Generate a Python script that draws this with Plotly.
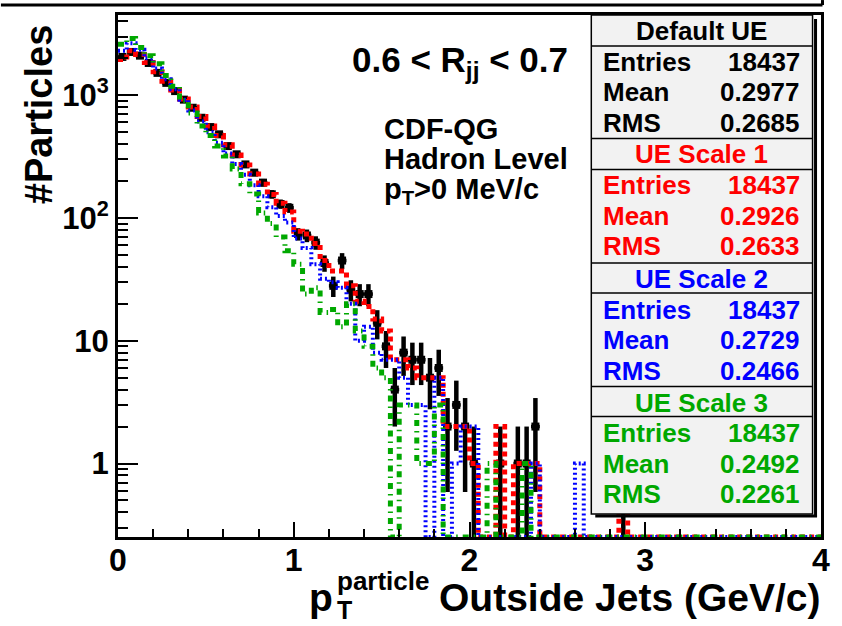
import numpy as np
import plotly.graph_objects as go

# ---- binning: 80 bins of 0.05 GeV/c from 0 to 4 ----
X_MIN, X_MAX, N_BINS = 0.0, 4.0, 80
Y_MIN, Y_MAX = 0.252, 4500.0

# ---- bin contents ----
default_ue = [
    2050, 2250, 2100, 1830, 1520, 1260, 1080, 920, 790, 655,
    550, 480, 385, 330, 273, 234, 194, 156, 130, 121,
    74, 72, 63, 43, 28, 45, 26, 24, 24, 14,
    9, 4, 8, 7, 7, 5, 6, 2, 3, 2,
    1, 0, 0, 1, 0, 1, 1, 2, 0, 0,
    0, 0, 0, 0, 0, 0, 0, 1, 0, 0,
    0, 0, 0, 0, 0, 0, 0, 0, 0, 0,
    0, 0, 0, 0, 0, 0, 0, 0, 0, 0,
]
ue_scale1 = [
    1950, 2300, 2150, 1850, 1550, 1300, 1100, 930, 800, 670,
    560, 470, 395, 325, 270, 228, 188, 155, 132, 112,
    78, 74, 62, 45, 37, 37, 28, 21, 19, 15,
    12, 7, 7, 6, 5, 5, 5, 2, 2, 2,
    1, 0, 0, 2, 0, 1, 1, 1, 0, 0,
    0, 0, 0, 0, 0, 0, 0, 1, 0, 0,
    0, 0, 0, 0, 0, 0, 0, 0, 0, 0,
    0, 0, 0, 0, 0, 0, 0, 0, 0, 0,
]
ue_scale2 = [
    2300, 2650, 2350, 2000, 1650, 1350, 1120, 920, 750, 610,
    500, 410, 335, 275, 225, 185, 150, 122, 104, 92,
    68, 57, 42, 32, 30, 27, 20, 10, 13, 8,
    7, 7, 5, 3, 3, 0, 5, 0, 1, 2,
    2, 0, 0, 0, 0, 0, 0, 1, 0, 0,
    0, 0, 1, 0, 0, 0, 0, 0, 0, 0,
    0, 0, 0, 0, 0, 0, 0, 0, 0, 0,
    0, 0, 0, 0, 0, 0, 0, 0, 0, 0,
]
ue_scale3 = [
    2600, 2900, 2450, 2100, 1800, 1450, 1180, 900, 715, 560,
    470, 385, 320, 250, 190, 157, 110, 90, 70, 54,
    42, 24, 27, 17, 18, 13, 20, 12, 9, 6,
    5, 0, 3, 3, 1, 1, 3, 0, 0, 0,
    0, 0, 1, 0, 0, 0, 1, 0, 0, 0,
    0, 0, 0, 0, 0, 0, 0, 0, 0, 0,
    0, 0, 0, 0, 0, 0, 0, 0, 0, 0,
    0, 0, 0, 0, 0, 0, 0, 0, 0, 0,
]

# ---- statistics panels ----
stat_titles = ["Default UE", "UE Scale 1", "UE Scale 2", "UE Scale 3"]
stat_entries = ["18437", "18437", "18437", "18437"]
stat_means = ["0.2977", "0.2926", "0.2729", "0.2492"]
stat_rms = ["0.2685", "0.2633", "0.2466", "0.2261"]
stat_colors = ["#000000", "#ff0000", "#0000ff", "#00a800"]

# axis tick labels
x_tickvals = [0, 1, 2, 3, 4]
x_ticktext = ["0", "1", "2", "3", "4"]
y_tickvals = [1, 10, 100, 1000]
y_ticktext = ["1", "10", "10<sup>2</sup>", "10<sup>3</sup>"]

FONT = "Liberation Sans, Arial, Helvetica, sans-serif"

edges = np.linspace(X_MIN, X_MAX, N_BINS + 1)
centers = 0.5 * (edges[:-1] + edges[1:])
half_w = 0.5 * (edges[1] - edges[0])


def outline(values):
    """Step outline of a histogram; empty bins sit on the axis floor."""
    v = np.maximum(np.asarray(values, dtype=float), Y_MIN)
    return edges, np.append(v, v[-1])


fig = go.Figure()

# default sample: markers with Poisson error bars
d = np.asarray(default_ue, dtype=float)
mask = d > 0
err_up = np.sqrt(d[mask])
err_dn = np.minimum(np.sqrt(d[mask]), d[mask] - Y_MIN)
fig.add_trace(go.Scatter(
    x=centers[mask], y=d[mask], mode="markers",
    marker=dict(symbol="square", size=8, color="black"),
    error_y=dict(type="data", symmetric=False, array=err_up, arrayminus=err_dn,
                 color="black", thickness=4.5, width=0),
    error_x=dict(type="data", array=np.full(mask.sum(), half_w),
                 color="black", thickness=3.5, width=0),
    showlegend=False, hoverinfo="skip",
))

line_styles = [
    (ue_scale1, "#ff0000", 5, "5px,4px"),
    (ue_scale2, "#0000ff", 4, "2px,3px"),
    (ue_scale3, "#00a800", 5, "6px,5px,1.5px,5px"),
]
for vals, col, lw, dash in line_styles:
    hx, hy = outline(vals)
    fig.add_trace(go.Scatter(
        x=hx, y=hy, mode="lines", line=dict(shape="hv", color=col, width=lw, dash=dash),
        showlegend=False, hoverinfo="skip",
    ))

# ---- canvas geometry (pixels) ----
W, H = 842, 626
L, R, T, B = 118, 826.5, 13, 537


def px(x):
    return (x - L) / (R - L)


def py(y):
    return (B - y) / (B - T)


shapes = []
annotations = []

# thin bar above the frame
shapes.append(dict(type="line", xref="paper", yref="paper", x0=px(0), x1=px(828),
                   y0=py(3), y1=py(3), line=dict(color="black", width=3)))
shapes.append(dict(type="line", xref="paper", yref="paper", x0=px(828), x1=px(828),
                   y0=py(-2), y1=py(3), line=dict(color="black", width=3)))

# statistics box
BX0, BX1, BY0, BY1 = 595, 818, 13, 514
shapes.append(dict(type="rect", xref="paper", yref="paper", x0=px(BX0), x1=px(BX1),
                   y0=py(BY1), y1=py(BY0), fillcolor="#f2f2f2",
                   line=dict(color="black", width=1.5), layer="above"))
shapes.append(dict(type="line", xref="paper", yref="paper", x0=px(821), x1=px(821),
                   y0=py(BY1 + 3), y1=py(BY0 + 4), line=dict(color="black", width=3), layer="above"))
shapes.append(dict(type="line", xref="paper", yref="paper", x0=px(BX0 + 4), x1=px(822.5),
                   y0=py(BY1 + 2), y1=py(BY1 + 2), line=dict(color="black", width=3), layer="above"))

section_top = [13, 137, 262, 386]
sep_lines = [44, 137, 168, 262, 292, 386, 416]
for yy in sep_lines:
    shapes.append(dict(type="line", xref="paper", yref="paper", x0=px(BX0), x1=px(BX1),
                       y0=py(yy), y1=py(yy), line=dict(color="black", width=1.5), layer="above"))

for k in range(4):
    top = section_top[k]
    col = stat_colors[k]
    annotations.append(dict(
        xref="paper", yref="paper", x=px((BX0 + BX1) / 2), y=py(top + 16),
        text=stat_titles[k], showarrow=False, xanchor="center", yanchor="middle",
        font=dict(family=FONT, size=26, color=col, weight="bold")))
    rows = [("Entries", stat_entries[k]), ("Mean", stat_means[k]), ("RMS", stat_rms[k])]
    for j, (lab, val) in enumerate(rows):
        yy = top + 47 + 30.5 * j
        annotations.append(dict(
            xref="paper", yref="paper", x=px(605), y=py(yy), text=lab, showarrow=False,
            xanchor="left", yanchor="middle",
            font=dict(family=FONT, size=26, color=col, weight="bold")))
        annotations.append(dict(
            xref="paper", yref="paper", x=px(807), y=py(yy), text=val, showarrow=False,
            xanchor="right", yanchor="middle",
            font=dict(family=FONT, size=26, color=col, weight="bold")))

# labels inside the frame
annotations.append(dict(
    xref="paper", yref="paper", x=px(463), y=py(60),
    text="0.6 < R<sub>jj</sub> < 0.7", showarrow=False, xanchor="center", yanchor="middle",
    font=dict(family=FONT, size=35, color="black", weight="bold")))
for txt, yy in [("CDF-QG", 127), ("Hadron Level", 158), ("p<sub>T</sub>>0 MeV/c", 190)]:
    annotations.append(dict(
        xref="paper", yref="paper", x=px(384), y=py(yy), text=txt, showarrow=False,
        xanchor="left", yanchor="middle",
        font=dict(family=FONT, size=29, color="black", weight="bold")))

# axis titles
annotations.append(dict(
    xref="paper", yref="paper", x=px(38), y=py(113), text="#Particles", textangle=-90,
    showarrow=False, xanchor="center", yanchor="middle",
    font=dict(family=FONT, size=38, color="black", weight="bold")))
annotations.append(dict(
    xref="paper", yref="paper", x=px(828), y=py(598), text="Outside Jets (GeV/c)",
    showarrow=False, xanchor="right", yanchor="middle",
    font=dict(family=FONT, size=39, color="black", weight="bold")))
annotations.append(dict(
    xref="paper", yref="paper", x=px(337), y=py(598), text="p",
    showarrow=False, xanchor="right", yanchor="middle",
    font=dict(family=FONT, size=39, color="black", weight="bold")))
annotations.append(dict(
    xref="paper", yref="paper", x=px(337), y=py(581), text="particle",
    showarrow=False, xanchor="left", yanchor="middle",
    font=dict(family=FONT, size=26, color="black", weight="bold")))
annotations.append(dict(
    xref="paper", yref="paper", x=px(337), y=py(610), text="T",
    showarrow=False, xanchor="left", yanchor="middle",
    font=dict(family=FONT, size=25, color="black", weight="bold")))

fig.update_layout(
    width=W, height=H,
    margin=dict(l=L, r=W - R, t=T, b=H - B, pad=0),
    paper_bgcolor="white", plot_bgcolor="white",
    font=dict(family=FONT, color="black"),
    shapes=shapes, annotations=annotations,
    showlegend=False,
)
fig.update_xaxes(
    range=[X_MIN, X_MAX], showgrid=False, zeroline=False,
    showline=True, linecolor="black", linewidth=3, mirror=True,
    ticks="inside", ticklen=15, tickwidth=1.5, tickcolor="black",
    tickvals=x_tickvals, ticktext=x_ticktext,
    tickfont=dict(family=FONT, size=32, color="black", weight="bold"),
    ticklabelstandoff=-7,
    minor=dict(ticks="inside", ticklen=8, tickwidth=1.5, tickcolor="black", dtick=0.2),
)
fig.update_yaxes(
    type="log", range=[np.log10(Y_MIN), np.log10(Y_MAX)], showgrid=False, zeroline=False,
    showline=True, linecolor="black", linewidth=3, mirror=True,
    ticks="inside", ticklen=20, tickwidth=1.5, tickcolor="black",
    tickvals=y_tickvals, ticktext=y_ticktext,
    tickfont=dict(family=FONT, size=31, color="black", weight="bold"),
    ticklabelstandoff=0,
    minor=dict(ticks="inside", ticklen=10, tickwidth=1.5, tickcolor="black", dtick="D1"),
)

fig.write_html("out.html")
